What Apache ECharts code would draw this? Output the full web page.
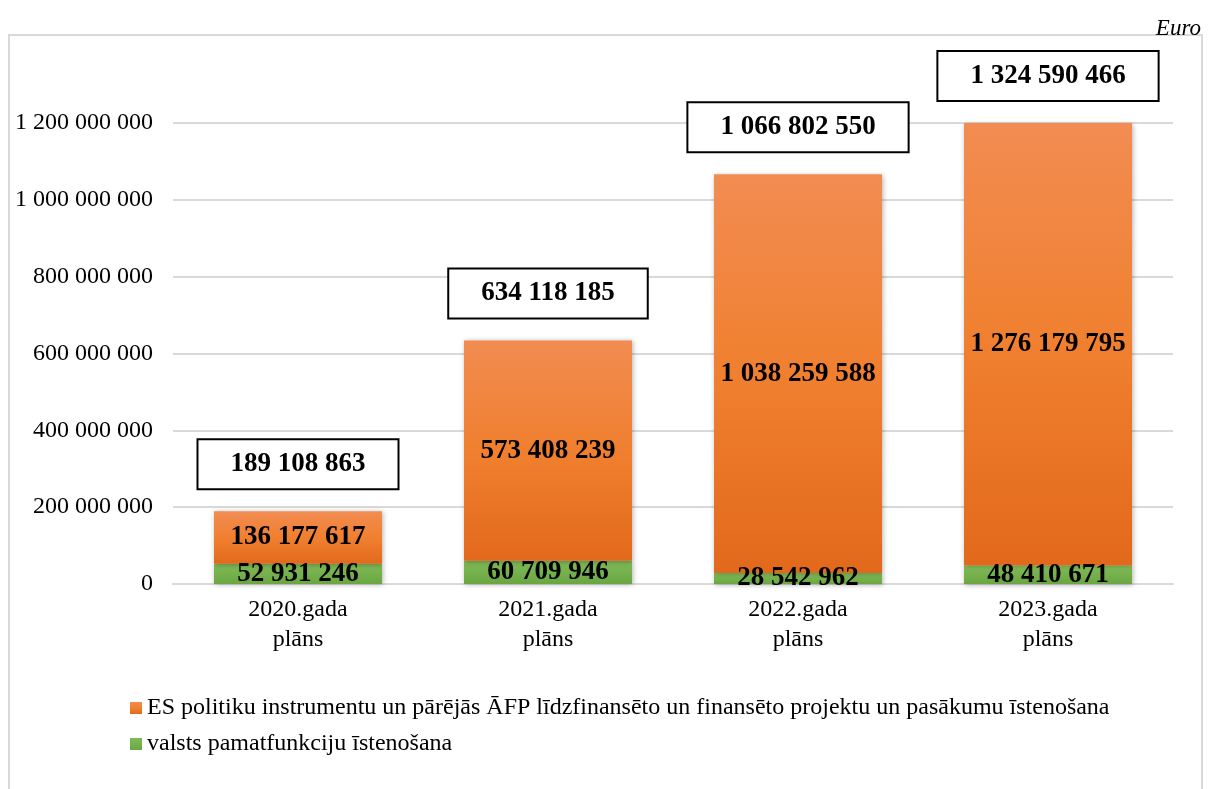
<!DOCTYPE html>
<html>
<head>
<meta charset="utf-8">
<style>
  html, body { margin: 0; padding: 0; background: #fff; }
  #chart { width: 1209px; height: 789px; }
</style>
<script src="https://cdn.jsdelivr.net/npm/echarts@6/dist/echarts.min.js"></script>
</head>
<body>
<div id="chart"></div>
<script>
const categories = ['2020.gada\nplāns', '2021.gada\nplāns', '2022.gada\nplāns', '2023.gada\nplāns']
const baseValues = [52931246, 60709946, 28542962, 48410671]
const euValues = [136177617, 573408239, 1038259588, 1276179795]
const totals = [189108863, 634118185, 1066802550, 1324590466]
const yTicks = [0, 200000000, 400000000, 600000000, 800000000, 1000000000, 1200000000]

const euName = 'ES politiku instrumentu un pārējās ĀFP līdzfinansēto un finansēto projektu un pasākumu īstenošana'
const baseName = 'valsts pamatfunkciju īstenošana'

const font = '"Liberation Serif", "Times New Roman", serif'

const fmt = (v) => String(v).replace(/\B(?=(\d{3})+(?!\d))/g, ' ')

const chart = echarts.init(document.getElementById('chart'))

const valueLabel = {
  show: true,
  position: 'inside',
  fontFamily: font,
  fontSize: 27,
  fontWeight: 'bold',
  color: '#000',
  formatter: (p) => fmt(p.value),
}

const option = {
  animation: false,
  title: {
    text: 'Euro',
    right: 3,
    top: 12,
    textStyle: { fontFamily: font, fontSize: 23, fontStyle: 'italic', fontWeight: 'normal', color: '#000' },
  },
  graphic: [
    {
      type: 'rect',
      shape: { x: 9, y: 35, width: 1193, height: 770 },
      style: { fill: 'none', stroke: '#d9d9d9', lineWidth: 2 },
      silent: true,
    },
  ],
  grid: {
    left: 173,
    right: 36,
    top: 123,
    bottom: 205,
  },
  legend: {
    data: [euName, baseName],
    orient: 'vertical',
    left: 125,
    top: 691,
    itemGap: 12,
    itemWidth: 12,
    itemHeight: 12,
    icon: 'rect',
    textStyle: { fontFamily: font, fontSize: 24, lineHeight: 24, color: '#000' },
  },
  xAxis: {
    type: 'category',
    data: categories,
    axisTick: { show: false },
    axisLine: { lineStyle: { color: '#d9d9d9', width: 2 } },
    axisLabel: {
      margin: 11,
      fontFamily: font,
      fontSize: 24,
      lineHeight: 30,
      color: '#000',
    },
  },
  yAxis: {
    type: 'value',
    min: yTicks[0],
    max: yTicks[yTicks.length - 1],
    interval: yTicks[1] - yTicks[0],
    axisLine: { show: false },
    axisTick: { show: false },
    splitLine: { lineStyle: { color: '#d9d9d9', width: 2 } },
    axisLabel: {
      margin: 20,
      fontFamily: font,
      fontSize: 24,
      color: '#000',
      formatter: (v) => fmt(v),
    },
  },
  series: [
    {
      name: baseName,
      type: 'bar',
      stack: 'total',
      barWidth: 168,
      data: baseValues,
      itemStyle: {
        color: new echarts.graphic.LinearGradient(0, 0, 0, 1, [
          { offset: 0, color: '#80bb59' },
          { offset: 1, color: '#6aa640' },
        ]),
        shadowBlur: 5,
        shadowColor: 'rgba(0,0,0,0.3)',
        shadowOffsetX: 1,
        shadowOffsetY: 1,
      },
      label: valueLabel,
    },
    {
      name: euName,
      type: 'bar',
      stack: 'total',
      barWidth: 168,
      data: euValues,
      itemStyle: {
        color: new echarts.graphic.LinearGradient(0, 0, 0, 1, [
          { offset: 0, color: '#f28c52' },
          { offset: 0.5, color: '#f0802f' },
          { offset: 1, color: '#e2691b' },
        ]),
        shadowBlur: 5,
        shadowColor: 'rgba(0,0,0,0.3)',
        shadowOffsetX: 1,
        shadowOffsetY: 1,
      },
      label: valueLabel,
    },
    {
      name: 'Kopā',
      type: 'bar',
      barWidth: 168,
      barGap: '-100%',
      data: totals,
      silent: true,
      z: 3,
      itemStyle: { color: 'rgba(0,0,0,0)' },
      label: {
        show: true,
        position: 'top',
        distance: 23,
        fontFamily: font,
        fontSize: 27,
        fontWeight: 'bold',
        lineHeight: 28,
        color: '#000',
        backgroundColor: '#fff',
        borderColor: '#000',
        borderWidth: 2,
        padding: [10, 32],
        formatter: (p) => fmt(p.value),
      },
    },
  ],
}

chart.setOption(option)
</script>
</body>
</html>
